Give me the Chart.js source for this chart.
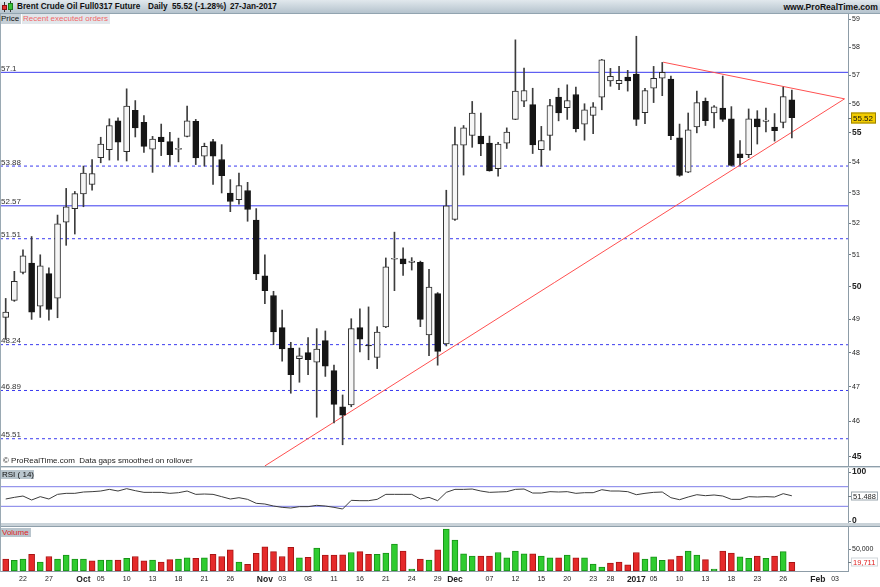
<!DOCTYPE html>
<html>
<head>
<meta charset="utf-8">
<title>Brent Crude Oil Full0317 Future</title>
<script src="https://cdn.jsdelivr.net/npm/chart.js@4.4.1/dist/chart.umd.min.js"></script>
<style>
  html, body { margin: 0; padding: 0; background: #fff; }
  #frame { position: relative; width: 880px; height: 587px; overflow: hidden; background: #fff;
           font-family: "Liberation Sans", Arial, sans-serif; }
  #frame canvas { position: absolute; left: 0; }
  .lbl { position: absolute; white-space: nowrap; line-height: 10px; color: #111; }
  .box { position: absolute; }
</style>
</head>
<body>
<div id="frame">
  <canvas id="price" width="880" height="453" style="top:14px"></canvas>
  <canvas id="rsi" width="880" height="56" style="top:468px"></canvas>
  <canvas id="volume" width="880" height="60" style="top:527px"></canvas>

  <!-- title bar -->
  <div class="box" style="left:0;top:0;width:880px;height:14px;background:linear-gradient(#e1e8ed,#b5c3cd);border-bottom:1px solid #92a4b0;box-sizing:border-box"></div>
  <div class="box" style="left:4px;top:2px;width:1px;height:10px;background:#333"></div>
  <div class="box" style="left:2px;top:5px;width:5px;height:5px;background:#e53030;border:1px solid #8a1010;box-sizing:border-box"></div>
  <div class="box" style="left:10px;top:1px;width:1px;height:11px;background:#333"></div>
  <div class="box" style="left:8px;top:3px;width:5px;height:7px;background:#36c236;border:1px solid #1a7a1a;box-sizing:border-box"></div>
  <div class="lbl" style="left:17px;top:2px;font-size:8.2px;font-weight:bold">Brent Crude Oil Full0317 Future</div>
  <div class="lbl" style="left:148px;top:2px;font-size:8.2px;font-weight:bold">Daily</div>
  <div class="lbl" style="left:172px;top:2px;font-size:8.2px;font-weight:bold">55.52 (-1.28%)</div>
  <div class="lbl" style="left:230px;top:2px;font-size:8.2px;font-weight:bold">27-Jan-2017</div>
  <div class="lbl" style="right:2px;top:2px;font-size:8.6px;font-weight:bold">www.ProRealTime.com</div>

  <!-- panel tabs -->
  <div class="lbl" style="left:0;top:14px;width:21px;height:10px;background:#c6cfd6;font-size:8px;padding-left:1px;box-sizing:border-box">Price</div>
  <div class="lbl" style="left:22px;top:14px;width:88px;height:10px;background:#e2e7eb;font-size:8px;color:#f06868;padding-left:1px;box-sizing:border-box">Recent executed orders</div>
  <div class="lbl" style="left:3px;top:456px;font-size:8px;color:#222">&copy; ProRealTime.com&nbsp; Data gaps smoothed on rollover</div>

  <!-- separators and frame -->
  <div class="box" style="left:0;top:466px;width:880px;height:1px;background:#8f9fab"></div>
  <div class="box" style="left:0;top:467px;width:880px;height:1px;background:#d3dbe0"></div>
  <div class="box" style="left:0;top:523px;width:880px;height:3px;background:#c9d2d8"></div>
  <div class="box" style="left:0;top:526px;width:880px;height:1px;background:#8f9fab"></div>
  <div class="box" style="left:0;top:14px;width:1px;height:558px;background:#9aa9b3"></div>

  <div class="lbl" style="left:1px;top:470px;width:33px;height:9px;line-height:9px;background:#b9c5cd;font-size:8px;padding-left:1px;box-sizing:border-box">RSI ( 14)</div>
  <div class="lbl" style="left:1px;top:528px;width:30px;height:9px;line-height:9px;background:#b9c5cd;font-size:8px;color:#e02424;padding-left:1px;box-sizing:border-box">Volume</div>
</div>

<script>
// trading days, 20 Sep 2016 - 27 Jan 2017, then the empty days up to the axis end
const dates = [
  '2016-09-20','2016-09-21','2016-09-22','2016-09-23','2016-09-26','2016-09-27','2016-09-28','2016-09-29','2016-09-30',
  '2016-10-03','2016-10-04','2016-10-05','2016-10-06','2016-10-07','2016-10-10','2016-10-11','2016-10-12','2016-10-13',
  '2016-10-14','2016-10-17','2016-10-18','2016-10-19','2016-10-20','2016-10-21','2016-10-24','2016-10-25','2016-10-26',
  '2016-10-27','2016-10-28','2016-10-31',
  '2016-11-01','2016-11-02','2016-11-03','2016-11-04','2016-11-07','2016-11-08','2016-11-09','2016-11-10','2016-11-11',
  '2016-11-14','2016-11-15','2016-11-16','2016-11-17','2016-11-18','2016-11-21','2016-11-22','2016-11-23','2016-11-24',
  '2016-11-25','2016-11-28','2016-11-29','2016-11-30',
  '2016-12-01','2016-12-02','2016-12-05','2016-12-06','2016-12-07','2016-12-08','2016-12-09','2016-12-12','2016-12-13',
  '2016-12-14','2016-12-15','2016-12-16','2016-12-19','2016-12-20','2016-12-21','2016-12-22','2016-12-23','2016-12-27',
  '2016-12-28','2016-12-29','2016-12-30',
  '2017-01-03','2017-01-04','2017-01-05','2017-01-06','2017-01-09','2017-01-10','2017-01-11','2017-01-12','2017-01-13',
  '2017-01-16','2017-01-17','2017-01-18','2017-01-19','2017-01-20','2017-01-23','2017-01-24','2017-01-25','2017-01-26',
  '2017-01-27',
  '2017-01-30','2017-01-31','2017-02-01','2017-02-02','2017-02-03','2017-02-06'
];

const open = [
  49.06,49.58,50.45,50.74,49.40,50.41,49.65,52.04,52.48,52.96,
  53.27,54.16,54.43,55.41,54.36,55.77,55.36,54.45,54.86,54.70,
  54.44,54.88,55.39,54.21,54.70,54.10,52.99,52.77,53.07,52.11,
  50.34,49.73,48.75,48.14,47.82,48.00,47.72,48.36,47.47,46.42,
  46.47,48.75,48.22,47.86,48.77,50.86,50.87,50.76,50.76,48.53,
  49.79,48.26,52.13,54.58,54.91,54.89,54.65,53.79,54.65,55.46,
  56.09,55.97,54.43,54.91,56.23,55.86,56.32,55.30,55.60,56.23,
  56.80,56.70,56.93,57.04,55.69,56.54,56.89,56.86,54.83,53.68,
  55.20,56.08,55.68,55.85,55.48,54.29,54.26,55.48,55.39,55.20,
  55.36,56.14
];
const high = [
  49.64,50.48,51.16,51.58,51.00,50.59,52.27,53.14,53.04,53.88,
  54.10,54.85,55.48,55.51,56.52,56.11,55.59,54.88,55.30,55.02,
  54.82,55.92,55.46,54.65,54.78,54.60,53.43,53.65,53.34,52.48,
  51.00,49.86,49.28,48.31,48.14,48.45,48.72,48.65,47.63,46.76,
  49.02,49.32,49.38,48.78,50.90,51.72,51.22,50.91,50.80,50.54,
  49.82,53.08,55.20,55.25,56.08,55.68,54.89,54.68,55.17,58.26,
  57.25,56.54,55.22,56.15,56.54,56.66,56.58,56.00,56.04,57.56,
  57.24,57.31,57.17,58.39,56.54,57.31,57.45,56.97,55.30,55.68,
  56.44,56.20,55.94,56.97,55.90,54.74,55.82,55.76,55.85,55.66,
  56.58,56.48
];
const low = [
  48.40,49.55,50.40,49.00,49.06,48.98,49.05,51.30,51.66,52.54,
  53.08,53.99,54.08,54.08,54.05,54.86,54.34,53.67,54.23,53.90,
  54.02,54.86,53.93,53.88,53.27,52.99,52.38,52.62,52.07,50.22,
  49.48,48.24,47.75,46.81,47.13,47.35,46.12,47.30,45.96,45.34,
  46.42,48.02,47.79,47.53,48.75,49.88,50.35,50.52,48.78,47.91,
  47.63,48.20,52.10,53.58,54.51,54.23,53.71,53.54,54.47,55.45,
  55.90,54.30,53.88,54.41,55.41,55.46,55.03,54.75,54.97,55.79,
  56.61,56.49,56.44,55.25,55.31,56.04,56.28,54.77,53.54,53.66,
  55.00,55.25,55.17,55.39,53.88,53.91,54.16,54.62,55.03,54.72,
  55.17,54.83
];
const close = [
  49.22,50.17,50.97,49.22,50.65,49.30,51.99,52.54,52.97,53.65,
  53.63,54.62,55.25,54.68,55.92,55.17,54.54,54.79,54.70,54.26,
  54.46,55.41,54.15,54.54,54.21,53.56,52.71,53.23,52.45,50.40,
  49.88,48.62,48.11,47.35,47.91,47.79,48.11,47.60,46.49,46.18,
  48.72,48.40,48.20,48.62,50.62,50.88,50.71,50.80,49.00,49.99,
  48.04,52.57,54.60,55.17,55.68,54.62,53.72,54.62,55.03,56.44,
  56.46,54.59,54.74,55.94,55.68,56.11,55.14,55.79,55.89,57.54,
  56.96,56.82,56.80,55.46,56.46,56.89,57.10,54.90,53.57,55.10,
  56.04,55.42,55.89,55.46,53.90,54.16,55.48,55.20,55.44,55.07,
  56.25,55.52
];
const prevClose = 49.5;   // close of 19 Sep, only used to colour the first volume bar

const volume = [
  27000,24000,27000,38000,20000,33000,27000,36000,27000,27000,
  23000,25000,25000,25000,29000,33000,23000,25000,20000,26000,
  27000,30000,29000,30000,38000,33000,48000,20000,15000,40000,
  55000,44000,33000,54000,30000,31000,52000,36000,36000,37000,
  42000,44000,38000,38000,41000,61000,45000,4500,27000,25000,
  48000,95000,70000,39000,34000,34000,34000,42000,30000,45000,
  39000,39000,34000,30000,30000,36000,30000,30000,16000,9000,
  18000,20000,14000,42000,27000,32000,24000,26000,34000,45000,
  36000,26000,4500,45000,41000,32000,29000,34000,29000,34000,
  44000,19711
];

const rsi = [
  44.9,48.3,51.0,42.9,49.7,44.9,54.4,56.5,56.5,59.2,
  59.9,61.2,64.6,61.2,66.0,61.9,58.5,58.5,58.5,56.5,
  57.8,61.2,54.4,55.1,54.4,49.7,44.9,47.6,44.2,36.1,
  34.7,30.6,27.9,26.5,29.3,29.3,32.0,30.6,27.9,24.5,
  42.2,41.5,41.5,44.2,54.4,54.4,54.4,54.4,44.9,48.3,
  41.5,58.5,64.6,64.6,65.3,61.2,58.5,59.2,59.9,64.6,
  65.3,57.1,57.1,59.9,59.2,59.9,56.5,57.8,57.8,63.9,
  61.2,61.2,59.9,53.7,56.5,58.5,59.2,47.6,43.5,49.0,
  53.7,51.7,53.1,51.0,44.2,44.2,49.7,49.0,49.7,49.0,
  55.8,51.488
];

// horizontal price levels drawn on the chart
const solidLevels = [57.1, 52.57];
const dashedLevels = [53.88, 51.51, 48.24, 46.89, 45.51];

// trend lines: x is the day slot, y the price
const risingTrend = [{ x: 30.0, y: 44.75 }, { x: 97.1, y: 56.17 }];
const fallingTrend = [{ x: 76.1, y: 57.46 }, { x: 97.1, y: 56.17 }];

const rsiBands = [70, 30];

const priceTicks = [45, 46, 47, 48, 49, 50, 51, 52, 53, 54, 55, 56, 57, 58, 59];
const rsiTicks = [0, 100];
const volumeTicks = [50000];
const xTickDates = [
  '2016-09-22','2016-09-27','2016-10-03','2016-10-05','2016-10-10','2016-10-13','2016-10-18','2016-10-21','2016-10-26',
  '2016-11-01','2016-11-03','2016-11-08','2016-11-11','2016-11-16','2016-11-21','2016-11-24','2016-11-29',
  '2016-12-01','2016-12-07','2016-12-12','2016-12-15','2016-12-20','2016-12-23','2016-12-28',
  '2017-01-03','2017-01-05','2017-01-10','2017-01-13','2017-01-18','2017-01-23','2017-01-26',
  '2017-02-01','2017-02-03'
];
const xTickLabels = [
  '22','27','Oct','05','10','13','18','21','26',
  'Nov','03','08','11','16','21','24','29',
  'Dec','07','12','15','20','23','28',
  '2017','05','10','13','18','23','26',
  'Feb','03'
];

/* ---------- setup ---------- */
const FONT = '"Liberation Sans", Arial, sans-serif';
Chart.defaults.font.family = FONT;
Chart.defaults.font.size = 7;
Chart.defaults.color = '#222';
Chart.defaults.animation = false;
Chart.defaults.responsive = false;
Chart.defaults.events = [];
Chart.defaults.plugins.legend.display = false;
Chart.defaults.plugins.tooltip.enabled = false;
Chart.defaults.layout.autoPadding = false;

const X_MIN = -0.66, X_MAX = 97.5;   // day slots shown on the x axis
const AXIS_W = 32;

const idx = close.map((_, i) => i);
const last = close.length - 1;
const upDay = idx.map(i => close[i] > (i ? close[i - 1] : prevClose));
const fullWidth = v => [{ x: X_MIN, y: v }, { x: X_MAX, y: v }];

const hiddenX = { type: 'linear', min: X_MIN, max: X_MAX, offset: false, display: false };

function rightAxis(tickValues, font, fmt) {
  return {
    position: 'right',
    afterBuildTicks: s => { s.ticks = tickValues.map(v => ({ value: v })); },
    afterFit: s => { s.width = AXIS_W; s.paddingTop = 0; s.paddingBottom = 0; },
    ticks: { autoSkip: false, padding: 1, color: '#222', font: font, callback: fmt },
    grid: { drawOnChartArea: false, drawTicks: true, tickLength: 3, color: '#6f7b84' },
    border: { display: true, color: '#8d9ca7' }
  };
}

function axisTag(id, value, text, st) {
  return {
    id: id,
    afterDraw(chart) {
      const { ctx, chartArea, scales: { y } } = chart;
      const cy = Math.round(y.getPixelForValue(value));
      ctx.save();
      ctx.font = st.font;
      const w = Math.ceil(ctx.measureText(text).width) + 4;
      const x = chartArea.right + 3;
      ctx.fillStyle = st.bg;
      ctx.fillRect(x, cy - st.h / 2, w, st.h);
      ctx.strokeStyle = st.border;
      ctx.lineWidth = 1;
      ctx.strokeRect(x + 0.5, cy - st.h / 2 + 0.5, w - 1, st.h - 1);
      ctx.fillStyle = st.fg;
      ctx.textBaseline = 'middle';
      ctx.fillText(text, x + 2, cy + 0.5);
      ctx.strokeStyle = '#6f7b84';
      ctx.beginPath();
      ctx.moveTo(chartArea.right, cy + 0.5);
      ctx.lineTo(chartArea.right + 3, cy + 0.5);
      ctx.stroke();
      ctx.restore();
    }
  };
}

const levelLabels = {
  id: 'levelLabels',
  afterDatasetsDraw(chart) {
    const { ctx, chartArea, scales: { y } } = chart;
    ctx.save();
    ctx.font = '8px ' + FONT;
    ctx.fillStyle = '#333';
    solidLevels.concat(dashedLevels).forEach(v => {
      ctx.fillText(String(v), chartArea.left + 1, y.getPixelForValue(v) - 1.5);
    });
    ctx.restore();
  }
};

function levelSet(values, dash) {
  return values.map(v => ({
    type: 'line', data: fullWidth(v), borderColor: '#3b3bef', borderWidth: 1,
    borderDash: dash, pointRadius: 0, order: 5
  }));
}

/* ---------- price panel ---------- */
new Chart(document.getElementById('price'), {
  type: 'bar',
  data: {
    datasets: [
      {
        label: 'bodies',
        data: idx.map(i => ({ x: i, y: [open[i], close[i]] })),
        backgroundColor: idx.map(i => close[i] >= open[i] ? '#f6f6f6' : '#161616'),
        borderColor: idx.map(i => close[i] >= open[i] ? '#2c2c2c' : '#161616'),
        borderWidth: 1, borderSkipped: false, barThickness: 6, minBarLength: 1,
        grouped: false, order: 1
      },
      {
        label: 'wicks',
        data: idx.map(i => ({ x: i, y: [low[i], high[i]] })),
        backgroundColor: '#3d3d3d', barThickness: 1, minBarLength: 1,
        grouped: false, order: 2
      },
      ...levelSet(solidLevels, []),
      ...levelSet(dashedLevels, [3, 3]),
      { type: 'line', data: risingTrend, borderColor: '#ff5050', borderWidth: 1, pointRadius: 0, order: 4 },
      { type: 'line', data: fallingTrend, borderColor: '#ff5050', borderWidth: 1, pointRadius: 0, order: 4 }
    ]
  },
  options: {
    layout: { padding: 0 },
    scales: {
      x: hiddenX,
      y: Object.assign(rightAxis(priceTicks,
        c => (c.tick && c.tick.value % 5 === 0) ? { size: 8.5, weight: 'bold' } : { size: 7, weight: 'normal' },
        v => String(v)), { type: 'logarithmic', min: 44.72, max: 59.2, bounds: 'data' })
    }
  },
  plugins: [levelLabels, axisTag('priceTag', close[last], close[last].toFixed(2),
    { font: '8px ' + FONT, bg: '#f2cc00', fg: '#111', border: '#9c8100', h: 11 })]
});

/* ---------- RSI panel ---------- */
new Chart(document.getElementById('rsi'), {
  type: 'line',
  data: {
    datasets: [
      { data: idx.map(i => ({ x: i, y: rsi[i] })), borderColor: '#3c3c3c', borderWidth: 1, pointRadius: 0, order: 1 },
      ...rsiBands.map(v => ({ data: fullWidth(v), borderColor: '#7c7ce8', borderWidth: 1, pointRadius: 0, order: 2 }))
    ]
  },
  options: {
    layout: { padding: 0 },
    scales: {
      x: hiddenX,
      y: Object.assign(rightAxis(rsiTicks, { size: 8.5, weight: 'bold' }, v => String(v)),
        { type: 'linear', min: -6.1, max: 108.2 })
    }
  },
  plugins: [axisTag('rsiTag', rsi[last], rsi[last].toFixed(3),
    { font: '7.5px ' + FONT, bg: '#ffffff', fg: '#222', border: '#9aa6ae', h: 9 })]
});

/* ---------- volume panel ---------- */
new Chart(document.getElementById('volume'), {
  type: 'bar',
  data: {
    datasets: [{
      data: idx.map(i => ({ x: i, y: volume[i] })),
      backgroundColor: idx.map(i => upDay[i] ? '#2fcc2f' : '#e52a2a'),
      borderColor: idx.map(i => upDay[i] ? '#179217' : '#a81515'),
      borderWidth: 1, borderSkipped: false, barThickness: 6, minBarLength: 1, grouped: false
    }]
  },
  options: {
    layout: { padding: 0 },
    scales: {
      x: {
        type: 'linear', min: X_MIN, max: X_MAX, offset: false,
        afterBuildTicks: s => { s.ticks = xTickDates.map(d => ({ value: dates.indexOf(d) })); },
        afterFit: s => { s.height = 16; s.paddingLeft = 0; s.paddingRight = 0; },
        ticks: {
          autoSkip: false, maxRotation: 0, padding: 4, color: '#222',
          callback: (v, k) => xTickLabels[k],
          font: c => /^\d\d$/.test(xTickLabels[c.index]) ? { size: 7, weight: 'normal' } : { size: 8.5, weight: 'bold' }
        },
        grid: { display: false, drawTicks: false },
        border: { display: true, color: '#8d9ca7' }
      },
      y: Object.assign(rightAxis(volumeTicks, { size: 7 }, v => v.toLocaleString('en-US')),
        { type: 'linear', min: 0, max: 100000 })
    }
  },
  plugins: [axisTag('volTag', volume[last], volume[last].toLocaleString('en-US'),
    { font: '7.5px ' + FONT, bg: '#ffffff', fg: '#e02020', border: '#d0d6da', h: 9 })]
});
</script>
</body>
</html>
